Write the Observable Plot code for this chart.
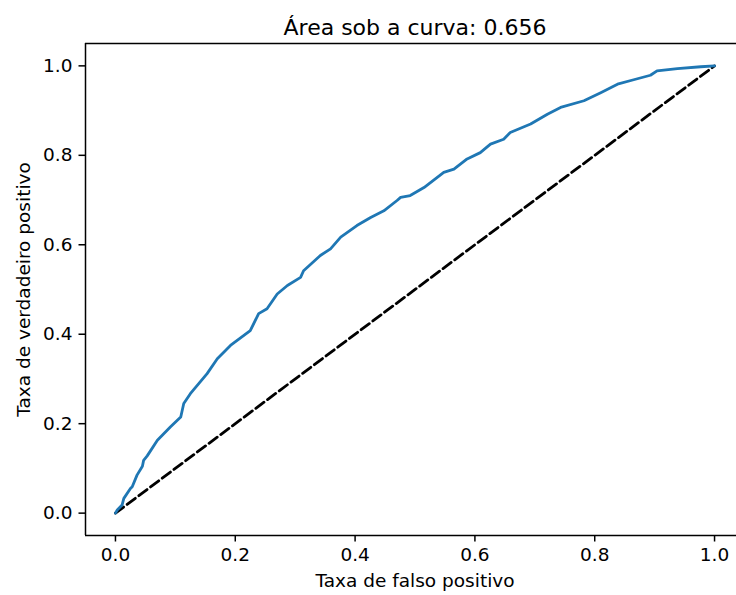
<!DOCTYPE html>
<html>
<head>
<meta charset="utf-8">
<script src="https://cdn.jsdelivr.net/npm/d3@7"></script>
<script src="https://cdn.jsdelivr.net/npm/@observablehq/plot@0.6"></script>
<style>
  html, body { margin: 0; padding: 0; background: #fff; }
</style>
</head>
<body>
<div id="chart"></div>
<script>
const titleText = "Área sob a curva: 0.656";
const xLabel = "Taxa de falso positivo";
const yLabel = "Taxa de verdadeiro positivo";

const fpr = [0, 0.003, 0.011, 0.014, 0.025, 0.028, 0.036, 0.045, 0.047, 0.053, 0.070, 0.092, 0.109, 0.114, 0.125, 0.153, 0.170, 0.192, 0.225, 0.239, 0.253, 0.270, 0.287, 0.309, 0.314, 0.342, 0.359, 0.376, 0.403, 0.426, 0.448, 0.470, 0.476, 0.492, 0.515, 0.548, 0.565, 0.587, 0.609, 0.626, 0.648, 0.659, 0.693, 0.721, 0.743, 0.782, 0.810, 0.838, 0.865, 0.893, 0.904, 0.938, 0.977, 1.0];
const tpr = [0, 0.007, 0.018, 0.033, 0.055, 0.059, 0.085, 0.105, 0.118, 0.128, 0.163, 0.193, 0.215, 0.245, 0.267, 0.312, 0.345, 0.375, 0.408, 0.446, 0.457, 0.490, 0.509, 0.527, 0.542, 0.576, 0.591, 0.617, 0.643, 0.661, 0.676, 0.699, 0.706, 0.710, 0.728, 0.762, 0.769, 0.792, 0.806, 0.825, 0.836, 0.851, 0.870, 0.892, 0.907, 0.922, 0.940, 0.959, 0.969, 0.979, 0.989, 0.994, 0.998, 1.0];
const diagX = [0, 1];
const diagY = [0, 1];
const xTicks = [0, 0.2, 0.4, 0.6, 0.8, 1.0];
const yTicks = [0, 0.2, 0.4, 0.6, 0.8, 1.0];

const roc = fpr.map((x, i) => ({x, y: tpr[i]}));
const diag = diagX.map((x, i) => ({x, y: diagY[i]}));

const W = 736, H = 595;
const mL = 85, mT = 43, mB = 60;
const pxPerUnit = 659 / 1.1;
const xMax = -0.05 + (W - mL) / pxPerUnit;

const chart = Plot.plot({
  width: W,
  height: H,
  marginLeft: mL,
  marginRight: 0,
  marginTop: mT,
  marginBottom: mB,
  style: {fontFamily: "DejaVu Sans", fontSize: "18.5px", color: "black", background: "white", overflow: "visible"},
  x: {domain: [-0.05, xMax]},
  y: {domain: [-0.05, 1.05]},
  marks: [
    Plot.line(diag, {x: "x", y: "y", stroke: "black", strokeWidth: 2.8, strokeDasharray: "10.2,4.4"}),
    Plot.line(roc, {x: "x", y: "y", stroke: "#1f77b4", strokeWidth: 2.8, strokeLinejoin: "round"}),
    Plot.ruleX([-0.05], {stroke: "black", strokeWidth: 1.5}),
    Plot.ruleY([-0.05, 1.05], {stroke: "black", strokeWidth: 1.5}),
    Plot.axisX(xTicks, {tickFormat: d3.format(".1f"), tickSize: 6.5, tickPadding: 6, strokeWidth: 1.5, label: null, fontSize: 18.5}),
    Plot.axisY(yTicks, {tickFormat: d3.format(".1f"), tickSize: 6.5, tickPadding: 6.5, strokeWidth: 1.5, label: null, fontSize: 18.5}),
    Plot.text([titleText], {x: 0.5, frameAnchor: "top", dy: -9, lineAnchor: "bottom", fontSize: 22, fill: "black"}),
    Plot.text([xLabel], {x: 0.5, frameAnchor: "bottom", dy: 51, lineAnchor: "bottom", fontSize: 18.5, fill: "black"}),
    Plot.text([yLabel], {frameAnchor: "left", dx: -61, rotate: -90, textAnchor: "middle", lineAnchor: "middle", fontSize: 18.5, fill: "black"})
  ]
});
document.getElementById("chart").appendChild(chart);
</script>
</body>
</html>
